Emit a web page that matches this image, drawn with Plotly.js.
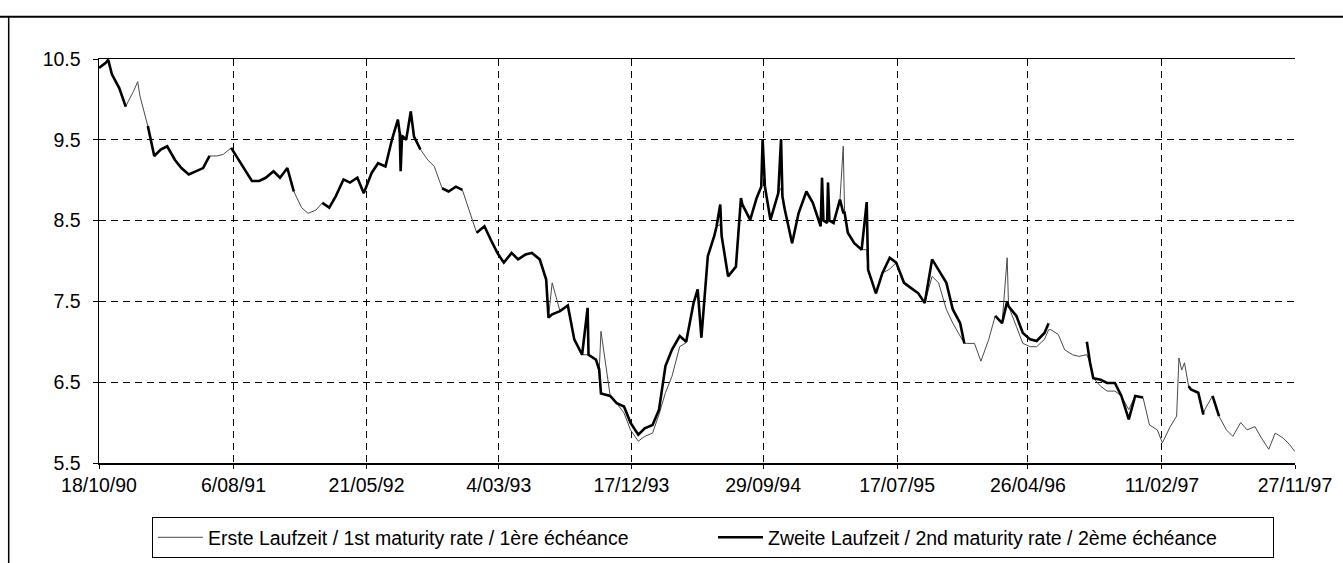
<!DOCTYPE html>
<html>
<head>
<meta charset="utf-8">
<script src="https://cdn.plot.ly/plotly-3.0.1.min.js"></script>
<style>
  html, body { margin: 0; padding: 0; background: #ffffff; }
  #chart { width: 1343px; height: 563px; }
</style>
</head>
<body>
<div id="chart"></div>
<script>
const dates = [
  '1990-10-18','1990-11-01','1990-11-07','1990-11-15','1990-12-01','1990-12-15','1990-12-20','1991-01-01','1991-01-10','1991-01-15',
  '1991-02-01','1991-02-15','1991-03-01','1991-03-15','1991-04-01','1991-04-15','1991-05-01','1991-05-15','1991-06-01','1991-06-15',
  '1991-07-01','1991-07-15','1991-08-01','1991-08-15','1991-09-01','1991-09-15','1991-10-01','1991-10-15','1991-11-01','1991-11-15',
  '1991-12-01','1991-12-15','1992-01-01','1992-01-15','1992-02-01','1992-02-15','1992-03-01','1992-03-15','1992-04-01','1992-04-15',
  '1992-05-01','1992-05-15','1992-06-01','1992-06-15','1992-07-01','1992-07-15','1992-07-28','1992-08-01','1992-08-03','1992-08-06',
  '1992-08-15','1992-08-25','1992-09-01','1992-09-15','1992-10-01','1992-10-15','1992-11-01','1992-11-15','1992-12-01','1992-12-15',
  '1993-01-01','1993-01-15','1993-02-01','1993-02-15','1993-03-01','1993-03-15','1993-04-01','1993-04-15','1993-05-01','1993-05-15',
  '1993-06-01','1993-06-15','1993-06-20','1993-06-28','1993-07-15','1993-08-01','1993-08-15','1993-09-01','1993-09-13','1993-09-15',
  '1993-10-01','1993-10-08','1993-10-12','1993-11-01','1993-11-15','1993-12-01','1993-12-15','1994-01-01','1994-01-15','1994-02-01',
  '1994-02-15','1994-03-01','1994-03-15','1994-04-01','1994-04-15','1994-05-01','1994-05-10','1994-05-18','1994-06-01','1994-06-15',
  '1994-06-20','1994-06-28','1994-07-01','1994-07-15','1994-08-01','1994-08-12','1994-08-15','1994-09-01','1994-09-15','1994-09-25',
  '1994-09-28','1994-10-03','1994-10-15','1994-11-01','1994-11-07','1994-11-10','1994-11-15','1994-12-01','1994-12-15','1995-01-01',
  '1995-01-15','1995-02-01','1995-02-04','1995-02-07','1995-02-15','1995-02-17','1995-02-20','1995-03-01','1995-03-15','1995-03-22',
  '1995-03-25','1995-04-01','1995-04-15','1995-05-01','1995-05-12','1995-05-15','1995-06-01','1995-06-15','1995-07-01','1995-07-15',
  '1995-08-01','1995-08-15','1995-09-01','1995-09-15','1995-10-01','1995-10-15','1995-11-01','1995-11-15','1995-12-01','1995-12-10',
  '1995-12-15','1996-01-01','1996-01-15','1996-02-01','1996-02-15','1996-03-01','1996-03-12','1996-03-15','1996-04-01','1996-04-15',
  '1996-05-01','1996-05-15','1996-06-01','1996-06-10','1996-06-15','1996-07-01','1996-07-15','1996-08-01','1996-08-15','1996-09-01',
  '1996-09-08','1996-09-15','1996-10-01','1996-10-15','1996-11-01','1996-11-15','1996-12-01','1996-12-15','1997-01-01','1997-01-15',
  '1997-02-01','1997-02-12','1997-03-01','1997-03-15','1997-03-20','1997-03-26','1997-04-01','1997-04-10','1997-04-15','1997-05-01',
  '1997-05-12','1997-05-15','1997-06-01','1997-06-15','1997-07-01','1997-07-15','1997-08-01','1997-08-15','1997-09-01','1997-09-15',
  '1997-10-01','1997-10-15','1997-11-01','1997-11-15','1997-11-27'
];

// Erste Laufzeit / 1st maturity rate
const firstRate = [
  10.39,10.45,10.49,10.31,10.14,9.91,9.97,10.10,10.22,10.04,
  9.67,9.30,9.38,9.42,9.25,9.15,9.07,9.11,9.15,9.30,
  9.30,9.32,9.40,9.27,9.13,8.99,8.99,9.03,9.11,9.03,
  9.15,8.86,8.66,8.59,8.63,8.72,8.66,8.80,9.01,8.97,
  9.03,8.84,9.09,9.21,9.17,9.50,9.75,9.58,9.58,9.55,
  9.50,9.85,9.54,9.38,9.25,9.17,8.90,8.86,8.92,8.88,
  8.59,8.35,8.43,8.26,8.10,7.98,8.10,8.02,8.08,8.10,
  8.02,7.77,7.30,7.73,7.38,7.45,7.03,6.84,6.84,6.84,
  6.78,6.62,7.13,6.33,6.24,6.12,5.91,5.77,5.83,5.87,
  6.10,6.37,6.57,6.94,6.99,7.48,7.65,7.05,8.06,8.31,
  8.43,8.45,8.31,7.81,7.93,8.78,8.70,8.51,8.78,8.92,
  9.50,8.92,8.51,8.84,8.90,8.80,8.64,8.22,8.59,8.86,
  8.72,8.43,9.03,8.50,8.47,8.97,8.50,8.47,8.76,9.42,
  8.60,8.35,8.22,8.14,8.14,7.89,7.60,7.85,7.90,7.98,
  7.73,7.67,7.60,7.48,7.81,7.73,7.40,7.23,7.07,6.98,
  6.98,6.98,6.76,7.03,7.32,7.23,8.04,7.44,7.19,6.98,
  6.94,6.94,7.03,7.15,7.15,7.09,6.90,6.84,6.82,6.84,
  6.74,6.55,6.45,6.39,6.39,6.33,6.16,6.33,6.31,5.97,
  5.91,5.75,5.95,6.08,6.80,6.65,6.74,6.45,6.41,6.37,
  6.10,6.16,6.33,6.08,5.91,5.83,6.00,5.91,5.95,5.81,
  5.67,5.87,5.81,5.73,5.64
];

// Zweite Laufzeit / 2nd maturity rate (null = not drawn)
const secondRate = [
  10.39,10.45,10.49,10.31,10.14,9.91,null,null,null,null,
  9.67,9.30,9.38,9.42,9.25,9.15,9.07,9.11,9.15,9.30,
  null,null,9.40,9.27,9.13,8.99,8.99,9.03,9.11,9.03,
  9.15,8.86,null,null,null,8.72,8.66,8.80,9.01,8.97,
  9.03,8.84,9.09,9.21,9.17,9.50,9.75,9.58,9.11,9.55,
  9.50,9.85,9.54,9.38,null,null,8.90,8.86,8.92,8.88,
  null,8.35,8.43,8.26,8.10,7.98,8.10,8.02,8.08,8.10,
  8.02,7.77,7.30,7.34,7.38,7.45,7.03,6.84,7.42,6.84,
  6.78,6.66,6.36,6.33,6.24,6.20,6.00,5.85,5.93,5.97,
  6.16,6.70,6.90,7.07,7.00,7.48,7.65,7.05,8.06,8.31,
  8.43,8.70,8.31,7.81,7.93,8.78,8.70,8.51,8.78,8.92,
  9.50,8.92,8.51,8.84,9.51,8.80,8.64,8.22,8.59,8.86,
  8.72,8.43,9.03,8.50,8.47,8.97,8.50,8.47,8.76,8.60,
  8.60,8.35,8.22,8.14,8.73,7.89,7.60,7.85,8.04,7.98,
  7.73,7.67,7.60,7.48,8.02,7.89,7.73,7.40,7.23,6.98,
  null,null,null,null,7.32,7.23,7.50,7.44,7.32,7.11,
  7.03,7.01,7.11,7.23,null,null,null,null,null,7.00,
  6.74,6.55,6.53,6.49,6.49,6.33,6.04,6.33,6.31,null,
  null,null,null,null,null,null,null,6.45,6.41,6.37,
  6.10,null,6.33,6.08,null,null,null,null,null,null,
  null,null,null,null,null
];

const tickDates = ['1990-10-18','1991-08-06','1992-05-21','1993-03-04','1993-12-17','1994-09-29','1995-07-17','1996-04-26','1997-02-11','1997-11-27'];
const tickLabels = ['18/10/90','6/08/91','21/05/92','4/03/93','17/12/93','29/09/94','17/07/95','26/04/96','11/02/97','27/11/97'];
const yTicks = [5.5, 6.5, 7.5, 8.5, 9.5, 10.5];
const seriesNames = ['Erste Laufzeit / 1st maturity rate / 1ère échéance', 'Zweite Laufzeit / 2nd maturity rate / 2ème échéance'];

const FONT = 'Liberation Sans, Arial, sans-serif';

const traces = [
  {
    x: dates, y: firstRate, type: 'scatter', mode: 'lines',
    name: seriesNames[0],
    line: { color: '#4a4a4a', width: 1 },
    connectgaps: false, hoverinfo: 'x+y'
  },
  {
    x: dates, y: secondRate, type: 'scatter', mode: 'lines',
    name: seriesNames[1],
    line: { color: '#000000', width: 2.6 },
    connectgaps: false, hoverinfo: 'x+y'
  }
];

const layout = {
  width: 1343, height: 563,
  margin: { l: 99, r: 48, t: 59, b: 100, pad: 0, autoexpand: false },
  paper_bgcolor: '#ffffff', plot_bgcolor: '#ffffff',
  font: { family: FONT, color: '#000000', size: 19 },
  showlegend: true,
  legend: {
    orientation: 'h', x: 0.0443, xanchor: 'left', y: -0.134, yanchor: 'top',
    bordercolor: '#000000', borderwidth: 1, bgcolor: '#ffffff',
    font: { family: FONT, size: 19.5, color: '#000000' },
    entrywidth: 500, entrywidthmode: 'pixels', itemwidth: 45,
    traceorder: 'normal', itemclick: false, itemdoubleclick: false
  },
  xaxis: {
    type: 'date', range: ['1990-10-18', '1997-11-27'],
    tickmode: 'array', tickvals: tickDates, ticktext: tickLabels,
    showgrid: true, gridcolor: '#000000', gridwidth: 1, griddash: '7px,5px',
    showline: true, linecolor: '#000000', linewidth: 1.5, mirror: true,
    ticks: 'outside', ticklen: 4, tickcolor: '#000000',
    tickfont: { family: FONT, size: 19.5, color: '#000000' },
    zeroline: false, fixedrange: true
  },
  yaxis: {
    range: [5.5, 10.5], tickmode: 'array', tickvals: yTicks,
    ticktext: yTicks.map(v => v.toFixed(1)),
    showgrid: true, gridcolor: '#000000', gridwidth: 1, griddash: '7px,5px',
    showline: true, linecolor: '#000000', linewidth: 1.5,
    ticks: 'outside', ticklen: 5, tickcolor: '#000000',
    ticklabelstandoff: 8,
    tickfont: { family: FONT, size: 19.5, color: '#000000' },
    zeroline: false, fixedrange: true
  },
  shapes: [
    { type: 'line', xref: 'paper', yref: 'paper', x0: -0.083, x1: 1.041, y0: 1.1047, y1: 1.1047,
      line: { color: '#000000', width: 2 } },
    { type: 'line', xref: 'paper', yref: 'paper', x0: -0.0755, x1: -0.0755, y0: 1.1047, y1: -0.26,
      line: { color: '#000000', width: 1.5 } }
  ]
};

Plotly.newPlot('chart', traces, layout, { displayModeBar: false, staticPlot: true });
</script>
</body>
</html>
